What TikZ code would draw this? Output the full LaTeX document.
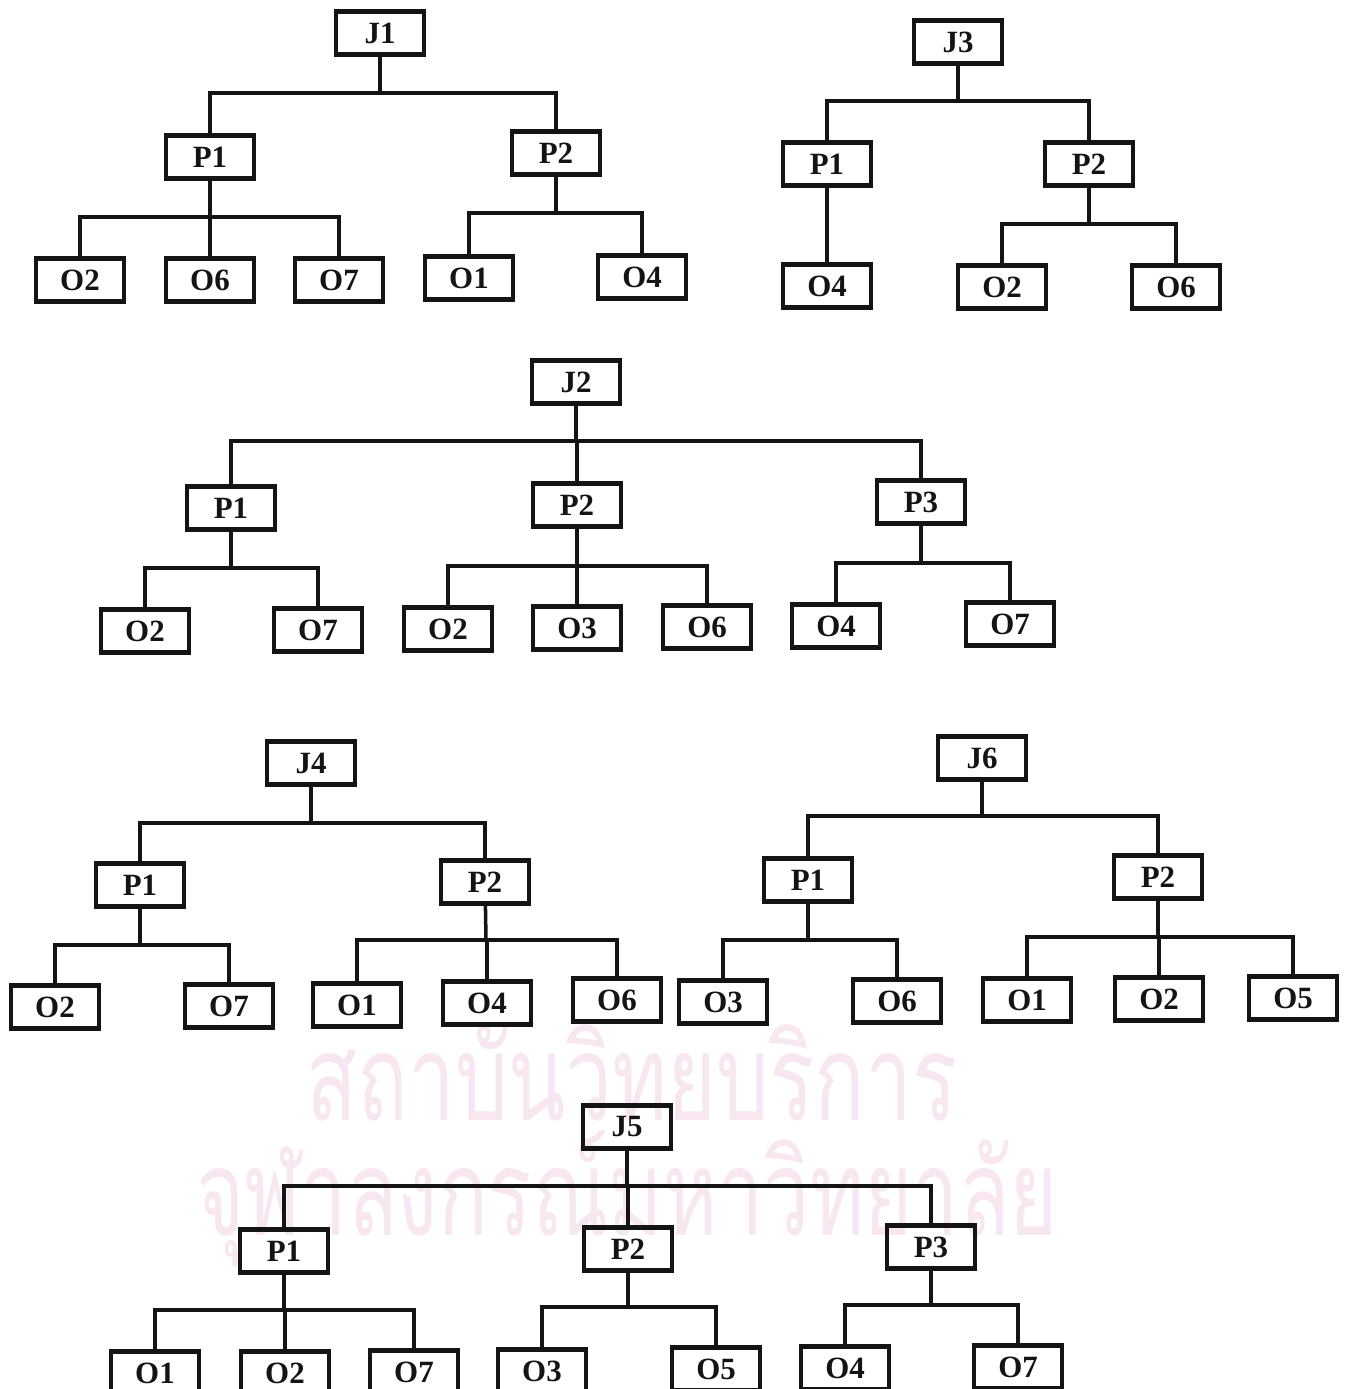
\documentclass[tikz,border=0pt]{standalone}
\usepackage{fontspec}
\setmainfont{Liberation Serif}
\newfontfamily\thaifont[Script=Thai]{Loma}
\usetikzlibrary{positioning}
\definecolor{inkcolor}{RGB}{20,20,20}
\definecolor{markcolor}{RGB}{248,230,240}

\begin{document}
\begin{tikzpicture}[
    box/.style={rectangle, draw=inkcolor, line width=1.2pt, minimum width=0.88cm,
                minimum height=0.43cm, inner sep=0pt, text=inkcolor,
                font=\fontsize{8.8}{10}\selectfont\bfseries},
    link/.style={draw=inkcolor, line width=1pt},
    watermark/.style={text=markcolor, inner sep=0pt, anchor=base,
                      font=\thaifont\fontsize{34}{34}\selectfont}
]
\useasboundingbox (0,0) rectangle (13.46,-13.89);

% faint watermark of the scan
\node[watermark] (wm1) at (6.32,-11.20) {\scalebox{0.70}[1]{สถาบันวิทยบริการ}};
\node[watermark] (wm2) at (6.27,-12.35) {\scalebox{0.69}[1]{จุฬาลงกรณ์มหาวิทยาลัย}};

% J1
\node[box] (j1) at (3.80,-0.33) {J1};
\coordinate (j1b) at (3.80,-0.93);
\node[box] (j1p1) at (2.10,-1.57) {P1};
\node[box] (j1p2) at (5.56,-1.53) {P2};
\coordinate (j1p1b) at (2.10,-2.17);
\coordinate (j1p2b) at (5.56,-2.13);
\node[box] (j1o2) at (0.80,-2.80) {O2};
\node[box] (j1o6) at (2.10,-2.80) {O6};
\node[box] (j1o7) at (3.39,-2.80) {O7};
\node[box] (j1o1) at (4.69,-2.78) {O1};
\node[box] (j1o4) at (6.42,-2.77) {O4};
\draw[link] (j1) -- (j1b);
\foreach \c in {j1p1,j1p2} \draw[link] (j1b) -| (\c);
\draw[link] (j1p1) -- (j1p1b);
\foreach \c in {j1o2,j1o6,j1o7} \draw[link] (j1p1b) -| (\c);
\draw[link] (j1p2) -- (j1p2b);
\foreach \c in {j1o1,j1o4} \draw[link] (j1p2b) -| (\c);

% J3
\node[box] (j3) at (9.58,-0.42) {J3};
\coordinate (j3b) at (9.58,-1.01);
\node[box] (j3p1) at (8.27,-1.64) {P1};
\node[box] (j3p2) at (10.89,-1.64) {P2};
\coordinate (j3p2b) at (10.89,-2.24);
\node[box] (j3o4) at (8.27,-2.86) {O4};
\node[box] (j3o2) at (10.02,-2.87) {O2};
\node[box] (j3o6) at (11.76,-2.87) {O6};
\draw[link] (j3) -- (j3b);
\foreach \c in {j3p1,j3p2} \draw[link] (j3b) -| (\c);
\draw[link] (j3p1) -- (j3o4);
\draw[link] (j3p2) -- (j3p2b);
\foreach \c in {j3o2,j3o6} \draw[link] (j3p2b) -| (\c);

% J2
\node[box] (j2) at (5.76,-3.82) {J2};
\coordinate (j2b) at (5.76,-4.41);
\node[box] (j2p1) at (2.31,-5.08) {P1};
\node[box] (j2p2) at (5.77,-5.05) {P2};
\node[box] (j2p3) at (9.21,-5.02) {P3};
\coordinate (j2p1b) at (2.31,-5.68);
\coordinate (j2p2b) at (5.77,-5.66);
\coordinate (j2p3b) at (9.21,-5.63);
\node[box] (j2p1o2) at (1.45,-6.31) {O2};
\node[box] (j2p1o7) at (3.18,-6.30) {O7};
\node[box] (j2p2o2) at (4.48,-6.29) {O2};
\node[box] (j2p2o3) at (5.77,-6.28) {O3};
\node[box] (j2p2o6) at (7.07,-6.27) {O6};
\node[box] (j2p3o4) at (8.36,-6.26) {O4};
\node[box] (j2p3o7) at (10.10,-6.24) {O7};
\draw[link] (j2) -- (j2b);
\foreach \c in {j2p1,j2p2,j2p3} \draw[link] (j2b) -| (\c);
\draw[link] (j2p1) -- (j2p1b);
\foreach \c in {j2p1o2,j2p1o7} \draw[link] (j2p1b) -| (\c);
\draw[link] (j2p2) -- (j2p2b);
\foreach \c in {j2p2o2,j2p2o3,j2p2o6} \draw[link] (j2p2b) -| (\c);
\draw[link] (j2p3) -- (j2p3b);
\foreach \c in {j2p3o4,j2p3o7} \draw[link] (j2p3b) -| (\c);

% J4
\node[box] (j4) at (3.11,-7.63) {J4};
\coordinate (j4b) at (3.11,-8.23);
\node[box] (j4p1) at (1.40,-8.85) {P1};
\node[box] (j4p2) at (4.85,-8.82) {P2};
\coordinate (j4p1b) at (1.40,-9.45);
\coordinate (j4p2b) at (4.86,-9.40);
\node[box] (j4o2) at (0.55,-10.07) {O2};
\node[box] (j4o7) at (2.29,-10.06) {O7};
\node[box] (j4o1) at (3.57,-10.05) {O1};
\node[box] (j4o4) at (4.87,-10.03) {O4};
\node[box] (j4o6) at (6.17,-10.00) {O6};
\draw[link] (j4) -- (j4b);
\foreach \c in {j4p1,j4p2} \draw[link] (j4b) -| (\c);
\draw[link] (j4p1) -- (j4p1b);
\foreach \c in {j4o2,j4o7} \draw[link] (j4p1b) -| (\c);
\draw[link] (j4p2) -- (j4p2b);
\foreach \c in {j4o1,j4o4,j4o6} \draw[link] (j4p2b) -| (\c);

% J6
\node[box] (j6) at (9.82,-7.58) {J6};
\coordinate (j6b) at (9.82,-8.16);
\node[box] (j6p1) at (8.08,-8.80) {P1};
\node[box] (j6p2) at (11.58,-8.77) {P2};
\coordinate (j6p1b) at (8.08,-9.40);
\coordinate (j6p2b) at (11.58,-9.37);
\node[box] (j6o3) at (7.23,-10.02) {O3};
\node[box] (j6o6) at (8.97,-10.01) {O6};
\node[box] (j6o1) at (10.27,-10.00) {O1};
\node[box] (j6o2) at (11.59,-9.99) {O2};
\node[box] (j6o5) at (12.93,-9.98) {O5};
\draw[link] (j6) -- (j6b);
\foreach \c in {j6p1,j6p2} \draw[link] (j6b) -| (\c);
\draw[link] (j6p1) -- (j6p1b);
\foreach \c in {j6o3,j6o6} \draw[link] (j6p1b) -| (\c);
\draw[link] (j6p2) -- (j6p2b);
\foreach \c in {j6o1,j6o2,j6o5} \draw[link] (j6p2b) -| (\c);

% J5
\node[box] (j5) at (6.27,-11.27) {J5};
\coordinate (j5b) at (6.27,-11.86);
\node[box] (j5p1) at (2.84,-12.51) {P1};
\node[box] (j5p2) at (6.28,-12.49) {P2};
\node[box] (j5p3) at (9.31,-12.47) {P3};
\coordinate (j5p1b) at (2.84,-13.10);
\coordinate (j5p2b) at (6.28,-13.07);
\coordinate (j5p3b) at (9.31,-13.05);
\node[box] (j5p1o1) at (1.55,-13.73) {O1};
\node[box] (j5p1o2) at (2.85,-13.73) {O2};
\node[box] (j5p1o7) at (4.14,-13.72) {O7};
\node[box] (j5p2o3) at (5.42,-13.71) {O3};
\node[box] (j5p2o5) at (7.16,-13.69) {O5};
\node[box] (j5p3o4) at (8.45,-13.68) {O4};
\node[box] (j5p3o7) at (10.18,-13.67) {O7};
\draw[link] (j5) -- (j5b);
\foreach \c in {j5p1,j5p2,j5p3} \draw[link] (j5b) -| (\c);
\draw[link] (j5p1) -- (j5p1b);
\foreach \c in {j5p1o1,j5p1o2,j5p1o7} \draw[link] (j5p1b) -| (\c);
\draw[link] (j5p2) -- (j5p2b);
\foreach \c in {j5p2o3,j5p2o5} \draw[link] (j5p2b) -| (\c);
\draw[link] (j5p3) -- (j5p3b);
\foreach \c in {j5p3o4,j5p3o7} \draw[link] (j5p3b) -| (\c);

\end{tikzpicture}
\end{document}
